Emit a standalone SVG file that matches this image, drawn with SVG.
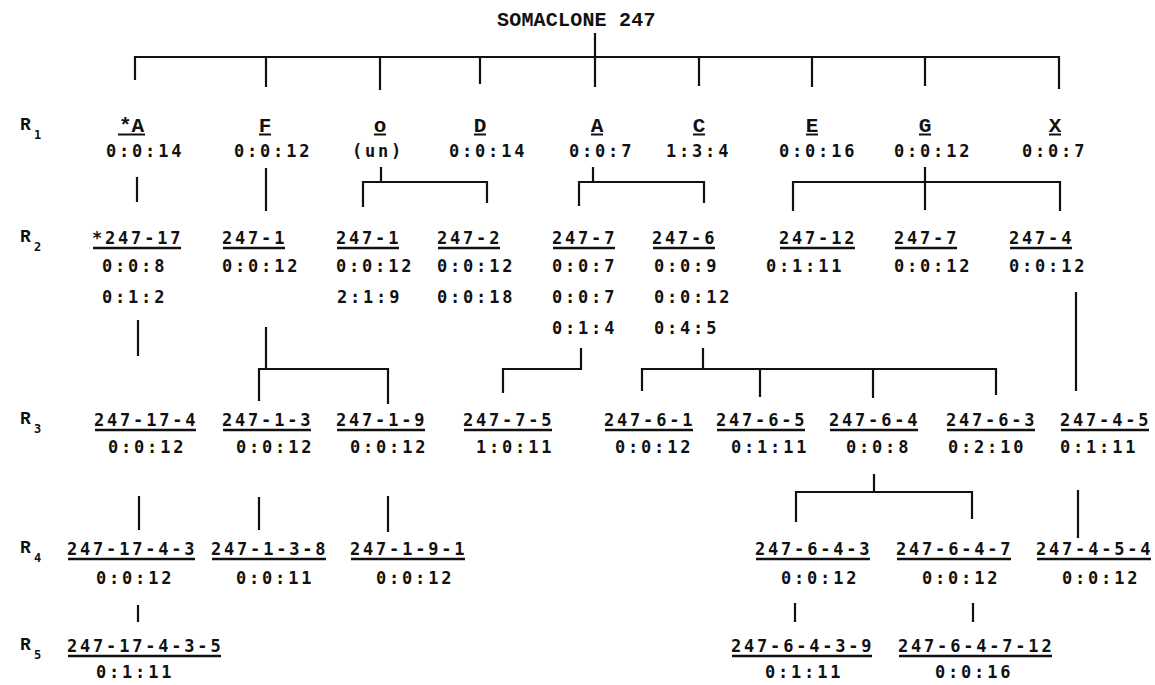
<svg xmlns="http://www.w3.org/2000/svg" width="1155" height="685" viewBox="0 0 1155 685">
  <style>
    .bg { fill: #ffffff; }
    .t { font-family: "DejaVu Sans Mono", "Liberation Mono", monospace; font-weight: bold; font-size: 17px; letter-spacing: 2.8px; fill: #111111; }
    .l { font-family: "Liberation Mono", "DejaVu Sans Mono", monospace; font-weight: bold; font-size: 21px; fill: #111111; text-anchor: middle; }
    .title { font-family: "Liberation Mono", "DejaVu Sans Mono", monospace; font-weight: bold; font-size: 20px; letter-spacing: 0.2px; fill: #111111; }
    .r { font-family: "Liberation Mono", "DejaVu Sans Mono", monospace; font-weight: bold; font-size: 18px; fill: #111111; }
    .sub { font-family: "DejaVu Sans Mono", monospace; font-weight: bold; font-size: 12px; fill: #111111; }
    .u { stroke: #111111; stroke-width: 2.5; fill: none; }
    .u1 { stroke: #111111; stroke-width: 2; fill: none; }
    .c { stroke: #111111; stroke-width: 2.2; fill: none; stroke-linecap: butt; }
  </style>
  <rect class="bg" x="0" y="0" width="1155" height="685"/>

  <!-- generation labels -->
  <g id="gen-labels">
    <text class="r" x="20" y="130">R</text><text class="sub" x="34" y="139">1</text>
    <text class="r" x="20" y="242">R</text><text class="sub" x="34" y="251">2</text>
    <text class="r" x="20" y="424">R</text><text class="sub" x="34" y="433">3</text>
    <text class="r" x="20" y="553">R</text><text class="sub" x="34" y="562">4</text>
    <text class="r" x="20" y="650">R</text><text class="sub" x="34" y="659">5</text>
  </g>

  <!-- root -->
  <g id="root">
    <text class="title" x="497" y="26">SOMACLONE 247</text>
  </g>

  <!-- connectors -->
  <g id="connectors" class="c">
    <!-- root to R1 -->
    <path d="M595 33V87"/>
    <path d="M135 80V57H1059V89"/>
    <path d="M266 57V87M380 57V90M480 57V84M699 57V86M812 57V87M925 57V86"/>
    <!-- R1 to R2 -->
    <path d="M137 177V202"/>
    <path d="M266 168V211"/>
    <path d="M381 167V182M363 207V182H487V203"/>
    <path d="M593 167V182M579 206V182H704V203"/>
    <path d="M925 167V210M793 211V182H1060V211"/>
    <!-- R2 to R3 -->
    <path d="M138 320V356"/>
    <path d="M266 327V369M259 401V369H388V404"/>
    <path d="M581 348V369H503V393"/>
    <path d="M703 348V369M642 391V369H996V395M760 369V397M873 369V398"/>
    <path d="M1076 292V391"/>
    <!-- R3 to R4 -->
    <path d="M139 496V530"/>
    <path d="M259 497V530"/>
    <path d="M388 496V532"/>
    <path d="M874 474V492M796 522V492H972V519"/>
    <path d="M1078 490V538"/>
    <!-- R4 to R5 -->
    <path d="M138 605V622"/>
    <path d="M795 603V622"/>
    <path d="M973 603V622"/>
  </g>

  <!-- R1 -->
  <g id="r1-starA">
    <text class="l" x="131.5" y="132">*A</text><path class="u1" d="M118 134.5H145"/>
    <text class="t" x="106" y="157">0:0:14</text>
  </g>
  <g id="r1-F">
    <text class="l" x="265" y="132">F</text><path class="u1" d="M259 134.5H271"/>
    <text class="t" x="234" y="157">0:0:12</text>
  </g>
  <g id="r1-o">
    <text class="l" x="380" y="132">o</text><path class="u1" d="M374 134.5H386"/>
    <text class="t" x="352" y="157">(un)</text>
  </g>
  <g id="r1-D">
    <text class="l" x="480" y="132">D</text><path class="u1" d="M474 134.5H486"/>
    <text class="t" x="449" y="157">0:0:14</text>
  </g>
  <g id="r1-A">
    <text class="l" x="597" y="132">A</text><path class="u1" d="M591 134.5H603"/>
    <text class="t" x="569" y="157">0:0:7</text>
  </g>
  <g id="r1-C">
    <text class="l" x="699" y="132">C</text><path class="u1" d="M693 134.5H705"/>
    <text class="t" x="666" y="157">1:3:4</text>
  </g>
  <g id="r1-E">
    <text class="l" x="812" y="132">E</text><path class="u1" d="M806 134.5H818"/>
    <text class="t" x="779" y="157">0:0:16</text>
  </g>
  <g id="r1-G">
    <text class="l" x="925" y="132">G</text><path class="u1" d="M919 134.5H931"/>
    <text class="t" x="894" y="157">0:0:12</text>
  </g>
  <g id="r1-X">
    <text class="l" x="1055" y="132">X</text><path class="u1" d="M1049 134.5H1061"/>
    <text class="t" x="1022" y="157">0:0:7</text>
  </g>

  <!-- R2 -->
  <g id="r2-247-17">
    <text class="t" x="92" y="244">*247-17</text><path class="u" d="M93 248H181"/>
    <text class="t" x="102" y="272">0:0:8</text>
    <text class="t" x="102" y="303">0:1:2</text>
  </g>
  <g id="r2-247-1-F">
    <text class="t" x="222" y="244">247-1</text><path class="u" d="M223 248H285"/>
    <text class="t" x="222" y="272">0:0:12</text>
  </g>
  <g id="r2-247-1-o">
    <text class="t" x="336" y="244">247-1</text><path class="u" d="M337 248H399"/>
    <text class="t" x="336" y="272">0:0:12</text>
    <text class="t" x="337" y="303">2:1:9</text>
  </g>
  <g id="r2-247-2">
    <text class="t" x="437" y="244">247-2</text><path class="u" d="M438 248H500"/>
    <text class="t" x="437" y="272">0:0:12</text>
    <text class="t" x="437" y="303">0:0:18</text>
  </g>
  <g id="r2-247-7-A">
    <text class="t" x="552" y="244">247-7</text><path class="u" d="M553 248H615"/>
    <text class="t" x="552" y="272">0:0:7</text>
    <text class="t" x="552" y="303">0:0:7</text>
    <text class="t" x="552" y="334">0:1:4</text>
  </g>
  <g id="r2-247-6">
    <text class="t" x="652" y="244">247-6</text><path class="u" d="M653 248H715"/>
    <text class="t" x="654" y="272">0:0:9</text>
    <text class="t" x="654" y="303">0:0:12</text>
    <text class="t" x="654" y="334">0:4:5</text>
  </g>
  <g id="r2-247-12">
    <text class="t" x="779" y="244">247-12</text><path class="u" d="M780 248H855"/>
    <text class="t" x="766" y="272">0:1:11</text>
  </g>
  <g id="r2-247-7-G">
    <text class="t" x="894" y="244">247-7</text><path class="u" d="M895 248H957"/>
    <text class="t" x="894" y="272">0:0:12</text>
  </g>
  <g id="r2-247-4">
    <text class="t" x="1009" y="244">247-4</text><path class="u" d="M1010 248H1072"/>
    <text class="t" x="1009" y="272">0:0:12</text>
  </g>

  <!-- R3 -->
  <g id="r3-247-17-4">
    <text class="t" x="94" y="426">247-17-4</text><path class="u" d="M95 430H196"/>
    <text class="t" x="108" y="453">0:0:12</text>
  </g>
  <g id="r3-247-1-3">
    <text class="t" x="222" y="426">247-1-3</text><path class="u" d="M223 430H311"/>
    <text class="t" x="236" y="453">0:0:12</text>
  </g>
  <g id="r3-247-1-9">
    <text class="t" x="336" y="426">247-1-9</text><path class="u" d="M337 430H425"/>
    <text class="t" x="350" y="453">0:0:12</text>
  </g>
  <g id="r3-247-7-5">
    <text class="t" x="463" y="426">247-7-5</text><path class="u" d="M464 430H552"/>
    <text class="t" x="476" y="453">1:0:11</text>
  </g>
  <g id="r3-247-6-1">
    <text class="t" x="604" y="426">247-6-1</text><path class="u" d="M605 430H693"/>
    <text class="t" x="615" y="453">0:0:12</text>
  </g>
  <g id="r3-247-6-5">
    <text class="t" x="716" y="426">247-6-5</text><path class="u" d="M717 430H805"/>
    <text class="t" x="731" y="453">0:1:11</text>
  </g>
  <g id="r3-247-6-4">
    <text class="t" x="829" y="426">247-6-4</text><path class="u" d="M830 430H918"/>
    <text class="t" x="846" y="453">0:0:8</text>
  </g>
  <g id="r3-247-6-3">
    <text class="t" x="946" y="426">247-6-3</text><path class="u" d="M947 430H1035"/>
    <text class="t" x="948" y="453">0:2:10</text>
  </g>
  <g id="r3-247-4-5">
    <text class="t" x="1060" y="426">247-4-5</text><path class="u" d="M1061 430H1149"/>
    <text class="t" x="1060" y="453">0:1:11</text>
  </g>

  <!-- R4 -->
  <g id="r4-247-17-4-3">
    <text class="t" x="67" y="555">247-17-4-3</text><path class="u" d="M68 559H195"/>
    <text class="t" x="96" y="584">0:0:12</text>
  </g>
  <g id="r4-247-1-3-8">
    <text class="t" x="211" y="555">247-1-3-8</text><path class="u" d="M212 559H326"/>
    <text class="t" x="236" y="584">0:0:11</text>
  </g>
  <g id="r4-247-1-9-1">
    <text class="t" x="350" y="555">247-1-9-1</text><path class="u" d="M351 559H465"/>
    <text class="t" x="376" y="584">0:0:12</text>
  </g>
  <g id="r4-247-6-4-3">
    <text class="t" x="755" y="555">247-6-4-3</text><path class="u" d="M756 559H870"/>
    <text class="t" x="781" y="584">0:0:12</text>
  </g>
  <g id="r4-247-6-4-7">
    <text class="t" x="896" y="555">247-6-4-7</text><path class="u" d="M897 559H1011"/>
    <text class="t" x="922" y="584">0:0:12</text>
  </g>
  <g id="r4-247-4-5-4">
    <text class="t" x="1036" y="555">247-4-5-4</text><path class="u" d="M1037 559H1151"/>
    <text class="t" x="1062" y="584">0:0:12</text>
  </g>

  <!-- R5 -->
  <g id="r5-247-17-4-3-5">
    <text class="t" x="67" y="652">247-17-4-3-5</text><path class="u" d="M68 656H221"/>
    <text class="t" x="96" y="678">0:1:11</text>
  </g>
  <g id="r5-247-6-4-3-9">
    <text class="t" x="731" y="652">247-6-4-3-9</text><path class="u" d="M732 656H872"/>
    <text class="t" x="765" y="678">0:1:11</text>
  </g>
  <g id="r5-247-6-4-7-12">
    <text class="t" x="898" y="652">247-6-4-7-12</text><path class="u" d="M899 656H1052"/>
    <text class="t" x="935" y="678">0:0:16</text>
  </g>
</svg>
